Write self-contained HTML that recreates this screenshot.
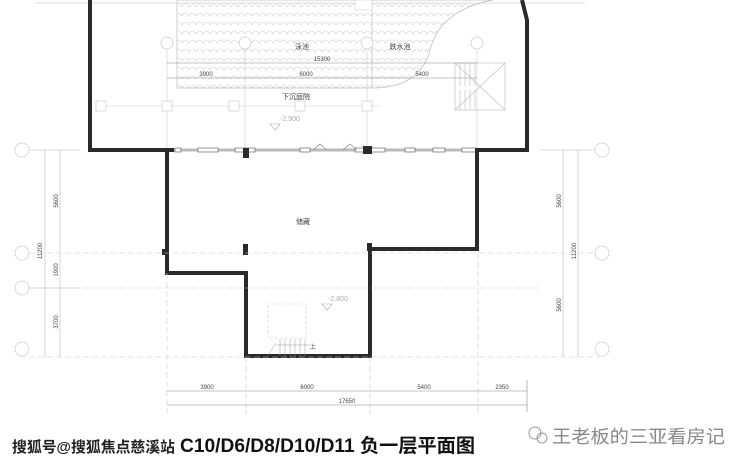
<!DOCTYPE html>
<html><head><meta charset="utf-8"><style>
body{margin:0;background:#fff;width:740px;height:468px;overflow:hidden;font-family:"Liberation Sans","Noto Sans CJK SC",sans-serif}
</style></head><body>
<svg width="740" height="468" viewBox="0 0 740 468" xmlns="http://www.w3.org/2000/svg" font-family="Liberation Sans, Noto Sans CJK SC, sans-serif">
<defs>
<pattern id="w" x="0" y="0" width="14" height="9" patternUnits="userSpaceOnUse">
<path d="M0 7 Q3.5 1 7 7 Q10.5 1 14 7" fill="none" stroke="#ccc" stroke-width="0.6"/>
</pattern>
</defs>
<line x1="35" y1="3" x2="585" y2="3" stroke="#ddd"/>
<path d="M177 0 V88 H372 Q420 88 430 50 Q440 10 493 0 Z" fill="url(#w)" stroke="#bbb" stroke-width="0.7"/>
<line x1="372" y1="0" x2="372" y2="88" stroke="#bbb" stroke-width="0.7"/>
<rect x="355" y="0" width="17" height="10" fill="#fff" stroke="#ccc" stroke-width="0.5"/>
<g stroke="#bbb" stroke-width="0.6" fill="none">
<rect x="455" y="63" width="50" height="47"/>
<line x1="455" y1="63" x2="505" y2="110"/><line x1="505" y1="63" x2="455" y2="110"/>
<path d="M460 63V86M465 63V86M470 63V86M475 63V86M460 110V90M465 110V90M470 110V90M475 110V90"/>
</g>
<g stroke="#ccc" stroke-width="0.6">
<line x1="167" y1="50" x2="167" y2="150"/><line x1="245" y1="50" x2="245" y2="150"/>
<line x1="367" y1="50" x2="367" y2="150"/><line x1="477" y1="50" x2="477" y2="150"/>
<line x1="95" y1="106" x2="380" y2="106"/>
</g>
<g fill="#fff" stroke="#ccc" stroke-width="0.7">
<circle cx="167" cy="43" r="6"/><circle cx="245" cy="43" r="6"/><circle cx="367" cy="43" r="6"/><circle cx="477" cy="43" r="6"/>
<rect x="96" y="101" width="10" height="10"/><rect x="162" y="101" width="10" height="10"/><rect x="229" y="101" width="10" height="10"/><rect x="295" y="101" width="10" height="10"/><rect x="362" y="101" width="10" height="10"/>
</g>
<g stroke="#888" stroke-width="0.6">
<line x1="167" y1="63" x2="477" y2="63"/><line x1="167" y1="78" x2="477" y2="78"/>
</g>
<g font-size="6" fill="#444" text-anchor="middle">
<text x="322" y="61">15300</text><text x="206" y="76">3900</text><text x="306" y="76">6000</text><text x="422" y="76">5400</text>
<text x="302" y="49" font-size="7">泳池</text><text x="400" y="49" font-size="7">跌水池</text>
<text x="296" y="99" font-size="7">下沉庭院</text>
<text x="290" y="121" font-size="7" fill="#aaa">-2.900</text>
<text x="303" y="224" font-size="7">储藏</text>
<text x="338" y="301" font-size="7" fill="#aaa">-2.800</text>
<text x="313" y="349" font-size="6">上</text>
</g>
<path d="M270 124 L280 124 L275 130Z" fill="none" stroke="#aaa" stroke-width="0.6"/>
<path d="M322 304 L332 304 L327 310Z" fill="none" stroke="#aaa" stroke-width="0.6"/>
<line x1="170" y1="150" x2="477" y2="150" stroke="#bbb" stroke-width="3"/>
<g fill="#fff" stroke="#666" stroke-width="0.7">
<rect x="175" y="148" width="6" height="4"/><rect x="198" y="148" width="20" height="4"/><rect x="235" y="148" width="20" height="4"/><rect x="300" y="148" width="10" height="4"/><rect x="355" y="148" width="30" height="4"/><rect x="405" y="148" width="10" height="4"/><rect x="433" y="148" width="12" height="4"/><rect x="462" y="148" width="14" height="4"/>
</g>
<path d="M313 150 L320 144 L327 150 M343 150 L350 144 L357 150" fill="none" stroke="#888" stroke-width="0.7"/>
<g fill="none" stroke="#2a2a2a" stroke-width="4" stroke-linejoin="miter">
<path d="M90 0 V150 H174"/>
<path d="M167 150 V273 H246 V356 H370 V249 H477 V150 H527 V20 L522 0"/>
</g>
<g fill="#2a2a2a">
<rect x="243" y="148" width="6" height="10"/><rect x="363" y="146" width="9" height="8"/>
<rect x="243" y="244" width="5" height="11"/><rect x="162" y="249" width="4" height="6"/><rect x="367" y="243" width="5" height="8"/>
</g>
<g stroke="#ccc" stroke-width="0.6" stroke-dasharray="6,3">
<line x1="20" y1="253" x2="600" y2="253"/><line x1="20" y1="288" x2="540" y2="288"/><line x1="20" y1="357" x2="600" y2="357"/>
<line x1="167" y1="273" x2="167" y2="415"/><line x1="478" y1="253" x2="478" y2="415"/><line x1="246" y1="357" x2="246" y2="415"/><line x1="370" y1="357" x2="370" y2="415"/>
</g>
<rect x="268" y="304" width="38" height="34" fill="none" stroke="#ccc" stroke-dasharray="3,2" stroke-width="0.6"/>
<path d="M276 343 L268 355 M280 339 L280 356 M285 339 L285 356 M290 339 L290 356 M295 339 L295 356 M300 339 L300 356 M305 339 L305 356 M276 345 H312" stroke="#999" stroke-width="0.5" fill="none"/>
<g stroke="#bbb" stroke-width="0.6">
<line x1="45" y1="150" x2="45" y2="357"/><line x1="60" y1="150" x2="60" y2="357"/>
<line x1="563" y1="150" x2="563" y2="357"/><line x1="578" y1="150" x2="578" y2="357"/>
<line x1="30" y1="150" x2="80" y2="150"/><line x1="540" y1="150" x2="595" y2="150"/>
<line x1="30" y1="288" x2="80" y2="288"/>
</g>
<g fill="#fff" stroke="#ccc" stroke-width="0.7">
<circle cx="22" cy="150" r="7"/><circle cx="22" cy="253" r="7"/><circle cx="22" cy="288" r="7"/><circle cx="22" cy="349" r="7"/>
<circle cx="602" cy="150" r="7"/><circle cx="602" cy="253" r="7"/><circle cx="602" cy="349" r="7"/>
</g>
<g font-size="6" fill="#444" text-anchor="middle">
<text transform="translate(58,201) rotate(-90)">5600</text>
<text transform="translate(42,251) rotate(-90)">11200</text>
<text transform="translate(58,270) rotate(-90)">1900</text>
<text transform="translate(58,322) rotate(-90)">3700</text>
<text transform="translate(561,201) rotate(-90)">5600</text>
<text transform="translate(576,251) rotate(-90)">11200</text>
<text transform="translate(561,305) rotate(-90)">5600</text>
</g>
<g stroke="#888" stroke-width="0.6">
<line x1="167" y1="391" x2="527" y2="391"/><line x1="167" y1="405" x2="527" y2="405"/>
<line x1="527" y1="380" x2="527" y2="412"/>
</g>
<g font-size="6" fill="#444" text-anchor="middle">
<text x="207" y="389">3900</text><text x="307" y="389">6000</text><text x="424" y="389">5400</text><text x="502" y="389">2350</text><text x="347" y="403">17650</text>
</g>
<text x="12" y="452" font-size="15" font-weight="bold" fill="#222" textLength="163" lengthAdjust="spacingAndGlyphs">搜狐号@搜狐焦点慈溪站</text>
<text x="180" y="452" font-size="19" font-weight="bold" fill="#111" textLength="295" lengthAdjust="spacingAndGlyphs">C10/D6/D8/D10/D11  负一层平面图</text>
<circle cx="535" cy="433" r="6" fill="none" stroke="#999"/><circle cx="542" cy="438" r="5" fill="none" stroke="#999"/>
<text x="552" y="443" font-size="18" fill="#888" textLength="173" lengthAdjust="spacingAndGlyphs">王老板的三亚看房记</text>
</svg>
</body></html>
